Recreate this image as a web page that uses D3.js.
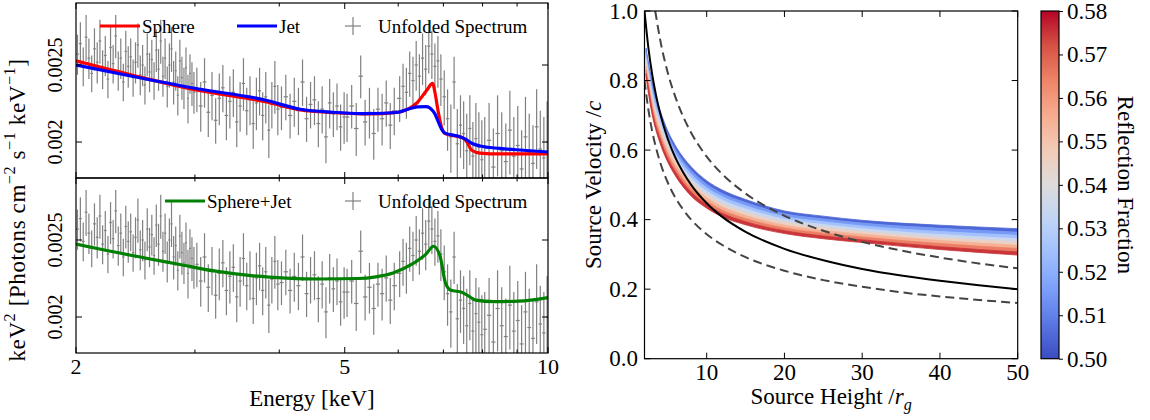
<!DOCTYPE html>
<html>
<head>
<meta charset="utf-8">
<script src="https://cdn.jsdelivr.net/npm/d3@7"></script>
<style>
  body { margin: 0; background: #fff; }
  svg { display: block; }
</style>
</head>
<body>
<svg id="chart" width="1150" height="420"></svg>
<script>
// ---- unfolded spectrum, flux in units of 1e-3 keV^2 ph cm^-2 s^-1 keV^-1 ----
const specEnergy = [
  2.01, 2.03, 2.05, 2.07, 2.09, 2.11, 2.13, 2.15, 2.17, 2.19,
  2.21, 2.23, 2.25, 2.27, 2.29, 2.31, 2.33, 2.35, 2.37, 2.39,
  2.41, 2.43, 2.45, 2.47, 2.49, 2.51, 2.53, 2.55, 2.57, 2.59,
  2.61, 2.63, 2.65, 2.67, 2.69, 2.71, 2.73, 2.75, 2.77, 2.79,
  2.81, 2.83, 2.85, 2.87, 2.89, 2.91, 2.93, 2.95, 2.97, 2.99,
  3.02, 3.06, 3.10, 3.14, 3.18, 3.22, 3.26, 3.30, 3.34, 3.38,
  3.42, 3.46, 3.50, 3.54, 3.58, 3.62, 3.66, 3.70, 3.74, 3.78,
  3.82, 3.86, 3.90, 3.94, 3.98,
  4.03, 4.09, 4.15, 4.21, 4.27, 4.33, 4.39, 4.45, 4.51, 4.57, 4.63, 4.69, 4.75, 4.81, 4.87, 4.93, 4.99,
  5.04, 5.12, 5.20, 5.28, 5.36, 5.44, 5.52, 5.60, 5.68, 5.76, 5.84, 5.92,
  6.03, 6.10, 6.17, 6.24, 6.31, 6.38, 6.45, 6.52, 6.59, 6.66, 6.73, 6.80, 6.87, 6.94,
  7.02, 7.10, 7.18, 7.26, 7.34, 7.42, 7.50, 7.58, 7.66, 7.74, 7.82, 7.90, 7.98,
  8.06, 8.18, 8.30, 8.42, 8.54, 8.66, 8.78, 8.90, 9.02, 9.14, 9.26, 9.38, 9.50, 9.62, 9.74, 9.86, 9.97
];
const specFlux = [
  2.58, 2.66, 2.49, 2.71, 2.55, 2.44, 2.62, 2.52, 2.68, 2.47,
  2.57, 2.40, 2.63, 2.51, 2.72, 2.46, 2.55, 2.38, 2.60, 2.49,
  2.56, 2.41, 2.52, 2.65, 2.43, 2.50, 2.36, 2.58, 2.45, 2.54,
  2.39, 2.61, 2.47, 2.68, 2.42, 2.55, 2.35, 2.50, 2.62, 2.38,
  2.46, 2.29, 2.53, 2.41, 2.34, 2.48, 2.27, 2.44, 2.37, 2.31,
  2.33, 2.22, 2.38, 2.18, 2.29, 2.13, 2.27, 2.34, 2.16, 2.25,
  2.31, 2.12, 2.22, 2.37, 2.19, 2.26, 2.11, 2.24, 2.32, 2.16,
  2.28, 2.07, 2.23, 2.35, 2.20,
  2.21, 2.28, 2.16, 2.25, 2.19, 2.38, 2.14, 2.23, 2.26, 2.11, 2.20, 2.03, 2.24, 2.17, 2.22, 2.09, 2.15,
  2.15, 2.22, 2.08, 2.42, 2.12, 2.18, 2.05, 2.20, 2.14, 2.24, 2.10, 2.19,
  2.27, 2.35, 2.31, 2.44, 2.39, 2.50, 2.42, 2.55, 2.47, 2.64, 2.58, 2.49, 2.53, 2.40,
  2.28, 2.14, 2.03, 2.38, 1.99, 2.10, 2.05, 1.95, 2.08, 1.92, 2.02, 1.97, 1.90,
  1.93, 2.01, 1.86, 2.05, 1.95, 1.89, 2.07, 1.92, 1.98, 1.85, 2.03, 1.94, 1.88, 2.09, 1.96, 1.91, 2.00
];
const specErr = [
  0.15, 0.17, 0.14, 0.18, 0.15, 0.13, 0.16, 0.15, 0.17, 0.14,
  0.15, 0.13, 0.16, 0.14, 0.17, 0.14, 0.15, 0.13, 0.16, 0.15,
  0.14, 0.13, 0.15, 0.17, 0.14, 0.15, 0.13, 0.16, 0.14, 0.15,
  0.13, 0.16, 0.15, 0.17, 0.14, 0.15, 0.14, 0.16, 0.17, 0.15,
  0.14, 0.13, 0.16, 0.15, 0.14, 0.15, 0.16, 0.14, 0.15, 0.14,
  0.15, 0.16, 0.17, 0.15, 0.16, 0.14, 0.17, 0.16, 0.15, 0.17,
  0.16, 0.15, 0.16, 0.18, 0.15, 0.16, 0.15, 0.17, 0.16, 0.15,
  0.17, 0.16, 0.15, 0.18, 0.16,
  0.14, 0.15, 0.14, 0.16, 0.15, 0.16, 0.14, 0.15, 0.16, 0.14, 0.15, 0.15, 0.16, 0.14, 0.15, 0.14, 0.16,
  0.15, 0.14, 0.16, 0.15, 0.14, 0.16, 0.15, 0.14, 0.16, 0.15, 0.14, 0.15,
  0.15, 0.16, 0.17, 0.16, 0.17, 0.18, 0.16, 0.19, 0.18, 0.20, 0.18, 0.17, 0.19, 0.18,
  0.18, 0.19, 0.20, 0.18, 0.21, 0.19, 0.20, 0.22, 0.21, 0.20, 0.22, 0.21, 0.23,
  0.22, 0.23, 0.22, 0.24, 0.23, 0.22, 0.25, 0.23, 0.24, 0.22, 0.25, 0.23, 0.22, 0.24, 0.23, 0.24, 0.25
];

// ---- model curves (same flux units) ----
const modelEnergy = [2.0, 2.42, 3.04, 3.81, 4.3, 4.8, 5.3, 5.7, 6.0, 6.2, 6.4, 6.6, 6.75, 6.8, 6.88, 6.96, 7.04, 7.2, 7.35, 7.49, 7.58, 7.71, 7.93, 8.49, 9.19, 10.0];
const sphereFlux = [2.530, 2.428, 2.322, 2.248, 2.195, 2.178, 2.170, 2.172, 2.180, 2.200, 2.241, 2.318, 2.370, 2.310, 2.180, 2.084, 2.049, 2.040, 2.032, 2.023, 2.002, 1.953, 1.937, 1.932, 1.932, 1.932];
const jetFlux = [2.500, 2.420, 2.332, 2.259, 2.199, 2.180, 2.172, 2.174, 2.180, 2.199, 2.214, 2.216, 2.190, 2.170, 2.120, 2.075, 2.052, 2.042, 2.035, 2.023, 2.012, 1.993, 1.977, 1.963, 1.953, 1.943];
const comboEnergy = [2.0, 2.23, 2.52, 2.85, 3.22, 3.63, 4.10, 4.63, 5.23, 5.56, 5.91, 6.28, 6.59, 6.77, 6.92, 7.05, 7.18, 7.45, 7.63, 7.82, 8.31, 9.05, 10.0];
const comboFlux = [2.471, 2.423, 2.375, 2.329, 2.284, 2.255, 2.239, 2.233, 2.236, 2.247, 2.274, 2.329, 2.398, 2.455, 2.386, 2.207, 2.161, 2.149, 2.125, 2.100, 2.091, 2.094, 2.116];
const fluxTicks = [2.0, 2.5];
const energyTicks = [2, 5, 10];
const energyMinorTicks = [3, 4, 6, 7, 8, 9];

// ---- right panel: velocity vs height ----
const velHeight = [2, 2.5, 3, 3.5, 4, 5, 6, 7, 8, 10, 12, 15, 20, 25, 30, 35, 40, 45, 50];
const escapeVel = [1.0, 0.894, 0.816, 0.756, 0.707, 0.632, 0.577, 0.535, 0.5, 0.447, 0.408, 0.365, 0.316, 0.283, 0.258, 0.239, 0.224, 0.211, 0.2];
const lowerVel = [0.8, 0.716, 0.653, 0.605, 0.566, 0.506, 0.462, 0.428, 0.4, 0.358, 0.327, 0.292, 0.253, 0.226, 0.207, 0.191, 0.179, 0.169, 0.16];
const upperHeight = [3.38, 4, 5, 6, 7, 8, 10, 12, 15, 20, 25, 30, 35, 40, 45, 50];
const upperVel = [1.0, 0.919, 0.822, 0.751, 0.695, 0.65, 0.581, 0.531, 0.475, 0.411, 0.368, 0.336, 0.311, 0.291, 0.274, 0.26];

const bandHeight = [2.2, 2.6, 3, 4, 5, 6, 8, 10, 12, 15, 20, 25, 30, 40, 50];
const reflFractions = [0.50, 0.51, 0.52, 0.53, 0.54, 0.55, 0.56, 0.57, 0.58];
const bandVel = [
  [0.893, 0.840, 0.795, 0.715, 0.655, 0.612, 0.552, 0.512, 0.485, 0.458, 0.425, 0.410, 0.398, 0.384, 0.374],
  [0.883, 0.829, 0.783, 0.703, 0.644, 0.601, 0.541, 0.502, 0.475, 0.449, 0.417, 0.402, 0.390, 0.375, 0.364],
  [0.872, 0.819, 0.771, 0.691, 0.633, 0.590, 0.531, 0.492, 0.466, 0.440, 0.409, 0.394, 0.382, 0.366, 0.355],
  [0.862, 0.808, 0.759, 0.679, 0.621, 0.579, 0.520, 0.482, 0.456, 0.431, 0.401, 0.386, 0.374, 0.357, 0.345],
  [0.851, 0.797, 0.748, 0.668, 0.610, 0.569, 0.510, 0.472, 0.446, 0.421, 0.393, 0.377, 0.366, 0.348, 0.336],
  [0.841, 0.786, 0.736, 0.656, 0.599, 0.558, 0.500, 0.463, 0.437, 0.412, 0.384, 0.369, 0.358, 0.340, 0.326],
  [0.831, 0.776, 0.724, 0.644, 0.588, 0.547, 0.489, 0.453, 0.427, 0.403, 0.376, 0.361, 0.350, 0.331, 0.317],
  [0.820, 0.765, 0.712, 0.632, 0.576, 0.536, 0.479, 0.443, 0.418, 0.394, 0.368, 0.353, 0.342, 0.322, 0.307],
  [0.810, 0.750, 0.700, 0.620, 0.565, 0.525, 0.468, 0.433, 0.408, 0.385, 0.360, 0.345, 0.334, 0.314, 0.298]
];
const heightTicks = [10, 20, 30, 40, 50];
const velTicks = [0.0, 0.2, 0.4, 0.6, 0.8, 1.0];
// coolwarm colormap samples, low -> high
const coolwarm = ['#3b4cc0', '#5977e3', '#7b9ff9', '#9ebeff', '#c0d4f5', '#dddcdc', '#f2cbb7', '#f7ac8e', '#ee8468', '#d65244', '#b40426'];

const FONT = '"Liberation Serif", "DejaVu Serif", serif';
const svg = d3.select('#chart');
const defs = svg.append('defs');

// rich text helper: parts = [[text, kind]] kind: '', 'sup', 'sub', 'it', 'itsub'
function richText(sel, parts, size) {
  let shift = 0;
  parts.forEach(([t, kind]) => {
    const ts = sel.append('tspan').text(t);
    let target = 0;
    if (kind === 'sup') target = -size * 0.42;
    if (kind === 'sub' || kind === 'itsub') target = size * 0.25;
    ts.attr('dy', target - shift);
    shift = target;
    if (kind === 'sup' || kind === 'sub' || kind === 'itsub') ts.attr('font-size', size * 0.7);
    if (kind === 'it' || kind === 'itsub') ts.attr('font-style', 'italic');
  });
}

// ================= left: spectra =================
const xE = d3.scaleLog().domain([2, 10]).range([76, 548]);
const fluxDomain = [1.802, 2.992];

const panels = [
  { y0: 3, y1: 178, models: [
      { e: modelEnergy, f: sphereFlux, color: '#ff0000', name: 'Sphere' },
      { e: modelEnergy, f: jetFlux, color: '#0000ff', name: 'Jet' }
    ], legendX: [100, 237] },
  { y0: 178, y1: 353, models: [
      { e: comboEnergy, f: comboFlux, color: '#008000', name: 'Sphere+Jet' }
    ], legendX: [165] }
];

panels.forEach((p, pi) => {
  const y = d3.scaleLog().domain(fluxDomain).range([p.y1, p.y0]);
  const clipId = 'clipL' + pi;
  defs.append('clipPath').attr('id', clipId)
    .append('rect').attr('x', xE.range()[0]).attr('y', p.y0)
    .attr('width', xE.range()[1] - xE.range()[0]).attr('height', p.y1 - p.y0);
  const g = svg.append('g');
  const plot = g.append('g').attr('clip-path', `url(#${clipId})`);

  // error bars, x extent = half way to the neighbouring bins
  const pts = specEnergy.map((e, i) => {
    const prev = i > 0 ? specEnergy[i - 1] : e - (specEnergy[1] - specEnergy[0]);
    const next = i < specEnergy.length - 1 ? specEnergy[i + 1] : e + (e - specEnergy[i - 1]);
    return { e, f: specFlux[i], err: specErr[i], lo: (e + prev) / 2, hi: (e + next) / 2 };
  });
  const bars = plot.append('g').attr('stroke', '#808080').attr('stroke-width', 1.2);
  bars.selectAll('line.v').data(pts).enter().append('line')
    .attr('class', 'v')
    .attr('x1', d => xE(d.e)).attr('x2', d => xE(d.e))
    .attr('y1', d => y(d.f - d.err)).attr('y2', d => y(d.f + d.err));
  bars.selectAll('line.h').data(pts).enter().append('line')
    .attr('class', 'h')
    .attr('x1', d => xE(d.lo)).attr('x2', d => xE(d.hi))
    .attr('y1', d => y(d.f)).attr('y2', d => y(d.f));

  // models
  p.models.forEach(m => {
    const line = d3.line().x(d => xE(d[0])).y(d => y(d[1])).curve(d3.curveMonotoneX);
    plot.append('path').datum(m.e.map((e, i) => [e, m.f[i]]))
      .attr('d', line).attr('fill', 'none')
      .attr('stroke', m.color).attr('stroke-width', 3.2)
      .attr('stroke-linejoin', 'round');
  });

  // frame
  g.append('rect').attr('x', xE.range()[0]).attr('y', p.y0)
    .attr('width', xE.range()[1] - xE.range()[0]).attr('height', p.y1 - p.y0)
    .attr('fill', 'none').attr('stroke', '#000').attr('stroke-width', 1.2);

  // ticks (inside, all four sides)
  const tk = g.append('g').attr('stroke', '#000').attr('stroke-width', 1);
  energyTicks.concat(energyMinorTicks).forEach(v => {
    const len = energyTicks.includes(v) ? 6 : 3.5;
    tk.append('line').attr('x1', xE(v)).attr('x2', xE(v)).attr('y1', p.y1).attr('y2', p.y1 - len);
    tk.append('line').attr('x1', xE(v)).attr('x2', xE(v)).attr('y1', p.y0).attr('y2', p.y0 + len);
  });
  fluxTicks.forEach(v => {
    tk.append('line').attr('x1', xE.range()[0]).attr('x2', xE.range()[0] + 6).attr('y1', y(v)).attr('y2', y(v));
    tk.append('line').attr('x1', xE.range()[1]).attr('x2', xE.range()[1] - 6).attr('y1', y(v)).attr('y2', y(v));
    g.append('text')
      .attr('transform', `translate(62, ${y(v)}) rotate(-90)`)
      .attr('text-anchor', 'middle')
      .attr('font-family', FONT).attr('font-size', 20)
      .text(d3.format('~g')(v * 1e-3));
  });

  // legend
  const ly = p.y0 + 23;
  const lg = g.append('g').attr('font-family', FONT).attr('font-size', 19);
  p.models.forEach((m, i) => {
    const lx = p.legendX[i];
    lg.append('line').attr('x1', lx).attr('x2', lx + 40).attr('y1', ly).attr('y2', ly)
      .attr('stroke', m.color).attr('stroke-width', 3.2);
    lg.append('text').attr('x', lx + 42).attr('y', ly + 6.5).text(m.name);
  });
  lg.append('line').attr('x1', 345).attr('x2', 361).attr('y1', ly).attr('y2', ly).attr('stroke', '#808080').attr('stroke-width', 1.2);
  lg.append('line').attr('x1', 353).attr('x2', 353).attr('y1', ly - 9).attr('y2', ly + 9).attr('stroke', '#808080').attr('stroke-width', 1.2);
  lg.append('text').attr('x', 378).attr('y', ly + 6.5).text('Unfolded Spectrum');

  if (pi === panels.length - 1) {
    g.selectAll(null).data(energyTicks).enter().append('text')
      .attr('x', d => xE(d)).attr('y', p.y1 + 21)
      .attr('text-anchor', 'middle')
      .attr('font-family', FONT).attr('font-size', 22)
      .text(d => d);
  }
});

svg.append('text').attr('x', xE(Math.sqrt(20))).attr('y', 406)
  .attr('text-anchor', 'middle').attr('font-family', FONT).attr('font-size', 23)
  .text('Energy [keV]');

const yLab = svg.append('text')
  .attr('transform', 'translate(25, 210) rotate(-90)')
  .attr('text-anchor', 'middle').attr('font-family', FONT).attr('font-size', 23)
  .attr('letter-spacing', 0.6);
richText(yLab, [['keV', ''], ['2', 'sup'], [' [Photons cm', ''], ['\u22122', 'sup'], [' s', ''], ['\u22121', 'sup'], [' keV', ''], ['\u22121', 'sup'], [']', '']], 23);

// ================= right: velocity vs height =================
const xH = d3.scaleLinear().domain([2, 50]).range([644.5, 1017.7]);
const yV = d3.scaleLinear().domain([0, 1]).range([358.7, 11]);
const fMin = reflFractions[0], fMax = reflFractions[reflFractions.length - 1];
const colorStops = coolwarm.map((c, i) => fMin + i * (fMax - fMin) / (coolwarm.length - 1));
const cmap = d3.scaleLinear().domain(colorStops).range(coolwarm).interpolate(d3.interpolateRgb);

defs.append('clipPath').attr('id', 'clipR')
  .append('rect').attr('x', 644.5).attr('y', 11).attr('width', 1017.7 - 644.5).attr('height', 358.7 - 11);

const right = svg.append('g');
const rplot = right.append('g').attr('clip-path', 'url(#clipR)');
const vline = d3.line().x(d => xH(d[0])).y(d => yV(d[1])).curve(d3.curveMonotoneX);

// band: strip between neighbouring reflection-fraction curves
const strips = d3.range(reflFractions.length - 1).map(i => ({
  f: (reflFractions[i] + reflFractions[i + 1]) / 2,
  pts: bandHeight.map((h, j) => [h, bandVel[i][j], bandVel[i + 1][j]])
}));
const bandArea = d3.area().x(d => xH(d[0])).y0(d => yV(d[2])).y1(d => yV(d[1])).curve(d3.curveMonotoneX);
rplot.selectAll('path.band').data(strips).enter().append('path')
  .attr('class', 'band')
  .attr('d', d => bandArea(d.pts))
  .attr('fill', d => cmap(d.f)).attr('stroke', d => cmap(d.f)).attr('stroke-width', 0.8);

rplot.append('path').attr('d', vline(velHeight.map((h, i) => [h, lowerVel[i]])))
  .attr('fill', 'none').attr('stroke', '#444').attr('stroke-width', 2).attr('stroke-dasharray', '9,5');
rplot.append('path').attr('d', vline(upperHeight.map((h, i) => [h, upperVel[i]])))
  .attr('fill', 'none').attr('stroke', '#444').attr('stroke-width', 2).attr('stroke-dasharray', '9,5');
rplot.append('path').attr('d', vline(velHeight.map((h, i) => [h, escapeVel[i]])))
  .attr('fill', 'none').attr('stroke', '#000').attr('stroke-width', 2);

right.append('rect').attr('x', 644.5).attr('y', 11).attr('width', 1017.7 - 644.5).attr('height', 358.7 - 11)
  .attr('fill', 'none').attr('stroke', '#000').attr('stroke-width', 1.2);

const rt = right.append('g').attr('stroke', '#000').attr('stroke-width', 1);
heightTicks.forEach(v => {
  rt.append('line').attr('x1', xH(v)).attr('x2', xH(v)).attr('y1', 358.7).attr('y2', 352.7);
  rt.append('line').attr('x1', xH(v)).attr('x2', xH(v)).attr('y1', 11).attr('y2', 17);
});
velTicks.forEach(v => {
  rt.append('line').attr('x1', 644.5).attr('x2', 650.5).attr('y1', yV(v)).attr('y2', yV(v));
  rt.append('line').attr('x1', 1017.7).attr('x2', 1011.7).attr('y1', yV(v)).attr('y2', yV(v));
});
right.selectAll('text.xt').data(heightTicks).enter().append('text')
  .attr('class', 'xt').attr('x', d => xH(d)).attr('y', 380)
  .attr('text-anchor', 'middle').attr('font-family', FONT).attr('font-size', 23)
  .text(d => d);
right.selectAll('text.yt').data(velTicks).enter().append('text')
  .attr('class', 'yt').attr('x', 638).attr('y', d => yV(d) + 7.5)
  .attr('text-anchor', 'end').attr('font-family', FONT).attr('font-size', 23)
  .text(d => d3.format('.1f')(d));

const xLabR = right.append('text').attr('x', (644.5 + 1017.7) / 2).attr('y', 404)
  .attr('text-anchor', 'middle').attr('font-family', FONT).attr('font-size', 23);
richText(xLabR, [['Source Height /', ''], ['r', 'it'], ['g', 'itsub']], 23);
const yLabR = right.append('text').attr('transform', `translate(601, ${(11 + 358.7) / 2}) rotate(-90)`)
  .attr('text-anchor', 'middle').attr('font-family', FONT).attr('font-size', 23);
richText(yLabR, [['Source Velocity /', ''], ['c', 'it']], 23);

// ================= colorbar =================
const grad = defs.append('linearGradient').attr('id', 'cwGrad')
  .attr('x1', 0).attr('y1', 1).attr('x2', 0).attr('y2', 0);
coolwarm.forEach((c, i) => {
  grad.append('stop').attr('offset', i / (coolwarm.length - 1)).attr('stop-color', c);
});
const yCb = d3.scaleLinear().domain([fMin, fMax]).range([358.7, 11]);
const cb = svg.append('g');
cb.append('rect').attr('x', 1041).attr('y', 11).attr('width', 18).attr('height', 358.7 - 11)
  .attr('fill', 'url(#cwGrad)').attr('stroke', '#000').attr('stroke-width', 1.2);
const cbAxis = cb.append('g').attr('transform', 'translate(1059,0)')
  .call(d3.axisRight(yCb).tickValues(reflFractions).tickFormat(d3.format('.2f')).tickSize(4).tickPadding(4));
cbAxis.select('.domain').remove();
cbAxis.selectAll('text').attr('font-family', FONT).attr('font-size', 23);
cbAxis.selectAll('line').attr('stroke-width', 1);
cb.append('text').attr('transform', `translate(1118, ${(11 + 358.7) / 2}) rotate(90)`)
  .attr('text-anchor', 'middle').attr('font-family', FONT).attr('font-size', 23)
  .text('Reflection Fraction');
</script>
</body>
</html>
